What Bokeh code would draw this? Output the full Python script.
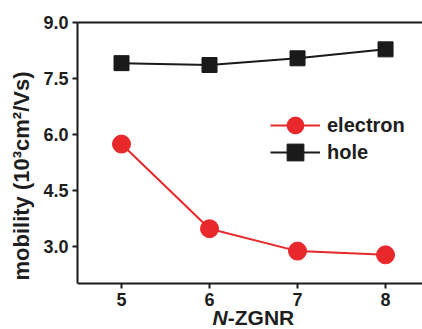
from bokeh.plotting import figure
from bokeh.models import (Range1d, FixedTicker, LinearAxis, Label, Legend, LegendItem,
                          NumeralTickFormatter)
from bokeh.embed import file_html
from bokeh.resources import INLINE

# data
n_zgnr = [5, 6, 7, 8]
electron = [5.74, 3.47, 2.87, 2.77]
hole = [7.91, 7.86, 8.04, 8.28]
y_ticks = [3.0, 4.5, 6.0, 7.5, 9.0]
x_ticks = [5, 6, 7, 8]

FONT = "Liberation Sans"
TXT = "#1e1e1e"
RED = "#e8282b"
BLK = "#1a1a1a"

Y0, Y1 = 2.0, 9.0
p = figure(width=422, height=329, output_backend="svg", toolbar_location=None,
           x_range=Range1d(4.5, 8.42), y_range=Range1d(0.768, Y1),
           min_border_left=77, min_border_right=0, min_border_top=22, min_border_bottom=0)
p.outline_line_color = None
p.grid.visible = False
p.background_fill_color = "white"
p.border_fill_color = "white"

for ax in (p.xaxis[0], p.yaxis[0]):
    ax.axis_line_width = 2
    ax.axis_line_color = BLK
    ax.major_tick_line_width = 2
    ax.major_tick_line_color = BLK
    ax.major_tick_out = 5
    ax.major_tick_in = 0
    ax.minor_tick_line_color = None
    ax.major_label_text_font = FONT
    ax.major_label_text_font_style = "bold"
    ax.major_label_text_font_size = "18px"
    ax.major_label_text_color = TXT

p.xaxis[0].ticker = FixedTicker(ticks=x_ticks)
p.xaxis[0].major_label_standoff = 4
p.xaxis[0].fixed_location = Y0
p.yaxis[0].ticker = FixedTicker(ticks=y_ticks)
p.yaxis[0].bounds = (Y0, Y1)
p.yaxis[0].formatter = NumeralTickFormatter(format="0.0")
p.yaxis[0].major_label_standoff = 4
p.yaxis[0].axis_label = "mobility (10³cm²/Vs)"
p.yaxis[0].axis_label_text_font = FONT
p.yaxis[0].axis_label_text_font_style = "bold"
p.yaxis[0].axis_label_text_font_size = "22px"
p.yaxis[0].axis_label_text_color = TXT
p.yaxis[0].axis_label_standoff = 6

top = LinearAxis(ticker=FixedTicker(ticks=[]), axis_line_width=2, axis_line_color=BLK,
                 major_tick_line_color=None, minor_tick_line_color=None,
                 major_label_text_font_size="0px")
p.add_layout(top, "above")

# x axis label with italic N
p.add_layout(Label(x=6.207, y=1.10, text="N", text_align="right", text_baseline="alphabetic",
                   text_font=FONT, text_font_style="bold italic",
                   text_font_size="21px", text_color=TXT))
p.add_layout(Label(x=6.207, y=1.10, text="-ZGNR", text_align="left", text_baseline="alphabetic",
                   text_font=FONT, text_font_style="bold",
                   text_font_size="21px", text_color=TXT))

le = p.line(n_zgnr, electron, line_color=RED, line_width=2)
se = p.scatter(n_zgnr, electron, marker="circle", size=18, fill_color=RED, line_color=RED)
lh = p.line(n_zgnr, hole, line_color=BLK, line_width=2)
sh = p.scatter(n_zgnr, hole, marker="square", size=15, fill_color=BLK, line_color=BLK)

common = dict(glyph_width=50, glyph_height=42, spacing=0, padding=0, margin=0,
              label_standoff=7, border_line_color=None, background_fill_alpha=0,
              label_text_font=FONT, label_text_font_style="bold",
              label_text_font_size="20px", label_text_color=TXT)
leg_e = Legend(items=[LegendItem(label="electron", renderers=[le, se])],
               location=(193, 183), **common)
leg_h = Legend(items=[LegendItem(label="hole", renderers=[lh, sh])],
               location=(193, 156), **common)
p.add_layout(leg_e, "center")
p.add_layout(leg_h, "center")

open("out.html", "w").write(file_html(p, INLINE))
